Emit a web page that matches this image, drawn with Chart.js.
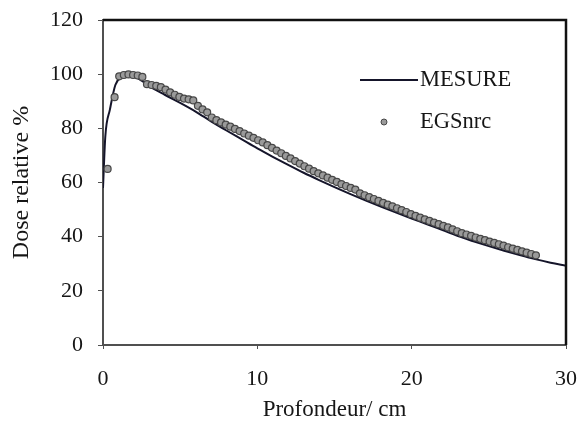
<!DOCTYPE html>
<html>
<head>
<meta charset="utf-8">
<script src="https://cdn.jsdelivr.net/npm/chart.js@4.4.1/dist/chart.umd.min.js"></script>
<style>
  html, body { margin: 0; padding: 0; background: #ffffff; }
  #wrap { width: 579px; height: 429px; }
</style>
</head>
<body>
<div id="wrap"><canvas id="pdd" width="579" height="429"></canvas></div>
<script>
// Depth-dose curve: measured profile vs EGSnrc Monte Carlo
const seriesNames = ['MESURE', 'EGSnrc'];

const depthMesure = [0, 0.15, 0.45, 0.8, 1.2, 1.6, 2.0, 2.5, 3, 4, 5, 6, 7, 8, 9, 10,
  11, 12, 13, 14, 15, 16, 17, 18, 19, 20, 21, 22, 23, 24, 25, 26, 27, 28, 29, 30];
const doseMesure = [58, 77, 87, 96, 99, 99.6, 99.2, 97.6, 95.6, 92.4, 89.4, 86.2, 82.6, 79.2, 75.9, 72.6,
  69.5, 66.5, 63.6, 60.9, 58.3, 55.8, 53.4, 51.1, 48.9, 46.7, 44.6, 42.4, 40.2, 38.3, 36.5, 34.8, 33.2, 31.7, 30.4, 29.3];

const depthEgs = [0.3, 0.75,
  1.05, 1.35, 1.65, 1.95, 2.25, 2.55, 2.85, 3.15, 3.45, 3.75, 4.05, 4.35, 4.65, 4.95,
  5.25, 5.55, 5.85, 6.15, 6.45, 6.75, 7.05, 7.35, 7.65, 7.95, 8.25, 8.55, 8.85, 9.15,
  9.45, 9.75, 10.05, 10.35, 10.65, 10.95, 11.25, 11.55, 11.85, 12.15, 12.45, 12.75, 13.05, 13.35,
  13.65, 13.95, 14.25, 14.55, 14.85, 15.15, 15.45, 15.75, 16.05, 16.35, 16.65, 16.95, 17.25, 17.55,
  17.85, 18.15, 18.45, 18.75, 19.05, 19.35, 19.65, 19.95, 20.25, 20.55, 20.85, 21.15, 21.45, 21.75,
  22.05, 22.35, 22.65, 22.95, 23.25, 23.55, 23.85, 24.15, 24.45, 24.75, 25.05, 25.35, 25.65, 25.95,
  26.25, 26.55, 26.85, 27.15, 27.45, 27.75, 28.05];
const doseEgs = [65, 91.5,
  99.2, 99.7, 99.9, 99.7, 99.5, 99.0, 96.3, 96.0, 95.7, 95.2, 94.3, 93.3, 92.4, 91.6,
  91.0, 90.7, 90.3, 88.3, 87.0, 85.9, 84.0, 83.0, 82.2, 81.4, 80.6, 79.8, 79.0, 78.1,
  77.3, 76.5, 75.6, 74.8, 73.8, 72.8, 71.8, 70.8, 69.8, 68.9, 67.9, 67.0, 66.0, 65.1,
  64.2, 63.4, 62.6, 61.8, 61.0, 60.2, 59.4, 58.7, 58.0, 57.4, 56.0, 55.3, 54.6, 53.9,
  53.2, 52.5, 51.8, 51.2, 50.5, 49.8, 49.1, 48.3, 47.7, 47.0, 46.4, 45.8, 45.2, 44.6,
  44.0, 43.4, 42.7, 42.0, 41.3, 40.8, 40.3, 39.7, 39.2, 38.7, 38.2, 37.7, 37.2, 36.7,
  36.1, 35.6, 35.1, 34.6, 34.1, 33.6, 33.1];

const xTicks = [0, 10, 20, 30];
const yTicks = [0, 20, 40, 60, 80, 100, 120];
const xTitle = 'Profondeur/ cm';
const yTitle = 'Dose relative %';

const FONT = '"Liberation Serif", "Times New Roman", serif';
const INK = '#161616';

const pairs = (xs, ys) => xs.map((x, i) => ({ x: x, y: ys[i] }));

// keep the plot box exactly where the layout padding puts it
const fixScale = (s, key, size) => {
  s[key] = size;
  s.paddingTop = 0; s.paddingBottom = 0; s.paddingLeft = 0; s.paddingRight = 0;
};

// Black frame on top/right and the in-plot legend
const framePlugin = {
  id: 'frameAndLegend',
  afterDraw(chart) {
    const { ctx, chartArea: a } = chart;
    ctx.save();
    ctx.strokeStyle = '#111';
    ctx.lineWidth = 2.5;
    ctx.beginPath();
    ctx.moveTo(a.left, a.top);
    ctx.lineTo(a.right, a.top);
    ctx.lineTo(a.right, a.bottom);
    ctx.stroke();

    const ds = chart.data.datasets;
    const tx = a.left + 317;
    ctx.font = '22.5px ' + FONT;
    ctx.fillStyle = INK;
    ctx.textBaseline = 'middle';
    ctx.textAlign = 'left';

    // line entry
    const y1 = a.top + 60;
    ctx.strokeStyle = ds[0].borderColor;
    ctx.lineWidth = 2;
    ctx.beginPath();
    ctx.moveTo(a.left + 257, y1);
    ctx.lineTo(tx - 2, y1);
    ctx.stroke();
    ctx.fillText(ds[0].label, tx, y1);

    // marker entry
    const y2 = a.top + 102;
    ctx.beginPath();
    ctx.arc(a.left + 281, y2, 3, 0, Math.PI * 2);
    ctx.fillStyle = ds[1].backgroundColor;
    ctx.fill();
    ctx.strokeStyle = ds[1].borderColor;
    ctx.lineWidth = 1;
    ctx.stroke();
    ctx.fillStyle = INK;
    ctx.fillText(ds[1].label, tx, y2);
    ctx.restore();
  }
};

new Chart(document.getElementById('pdd'), {
  type: 'scatter',
  data: {
    datasets: [
      {
        label: seriesNames[0],
        data: pairs(depthMesure, doseMesure),
        showLine: true,
        borderColor: '#15152a',
        backgroundColor: '#15152a',
        borderWidth: 2,
        pointRadius: 0,
        cubicInterpolationMode: 'monotone',
        order: 2
      },
      {
        label: seriesNames[1],
        data: pairs(depthEgs, doseEgs),
        showLine: false,
        backgroundColor: '#9a9a9a',
        borderColor: '#474747',
        borderWidth: 1.2,
        pointRadius: 3.5,
        order: 1
      }
    ]
  },
  options: {
    responsive: false,
    animation: false,
    layout: { padding: { top: 20, right: 13, left: 0, bottom: 0 } },
    plugins: { legend: { display: false }, tooltip: { enabled: false } },
    scales: {
      x: {
        type: 'linear',
        min: xTicks[0],
        max: xTicks[xTicks.length - 1],
        afterBuildTicks: s => { s.ticks = xTicks.map(v => ({ value: v })); },
        afterFit: s => fixScale(s, 'height', 84),
        border: { display: true, color: '#505050', width: 2 },
        grid: { display: true, drawOnChartArea: false, drawTicks: true, tickLength: 4, color: '#505050' },
        ticks: { color: INK, font: { family: FONT, size: 22 }, padding: 17, maxRotation: 0 },
        title: { display: true, text: xTitle, color: INK, font: { family: FONT, size: 23 }, padding: { top: 0, bottom: 5 } }
      },
      y: {
        type: 'linear',
        min: yTicks[0],
        max: yTicks[yTicks.length - 1],
        afterBuildTicks: s => { s.ticks = yTicks.map(v => ({ value: v })); },
        afterFit: s => fixScale(s, 'width', 103),
        border: { display: true, color: '#505050', width: 2 },
        grid: { display: true, drawOnChartArea: false, drawTicks: true, tickLength: 5, color: '#505050' },
        ticks: { color: INK, font: { family: FONT, size: 22 }, padding: 15 },
        title: { display: true, text: yTitle, color: INK, font: { family: FONT, size: 24 }, padding: { top: 7, bottom: 0 } }
      }
    }
  },
  plugins: [framePlugin]
});
</script>
</body>
</html>
